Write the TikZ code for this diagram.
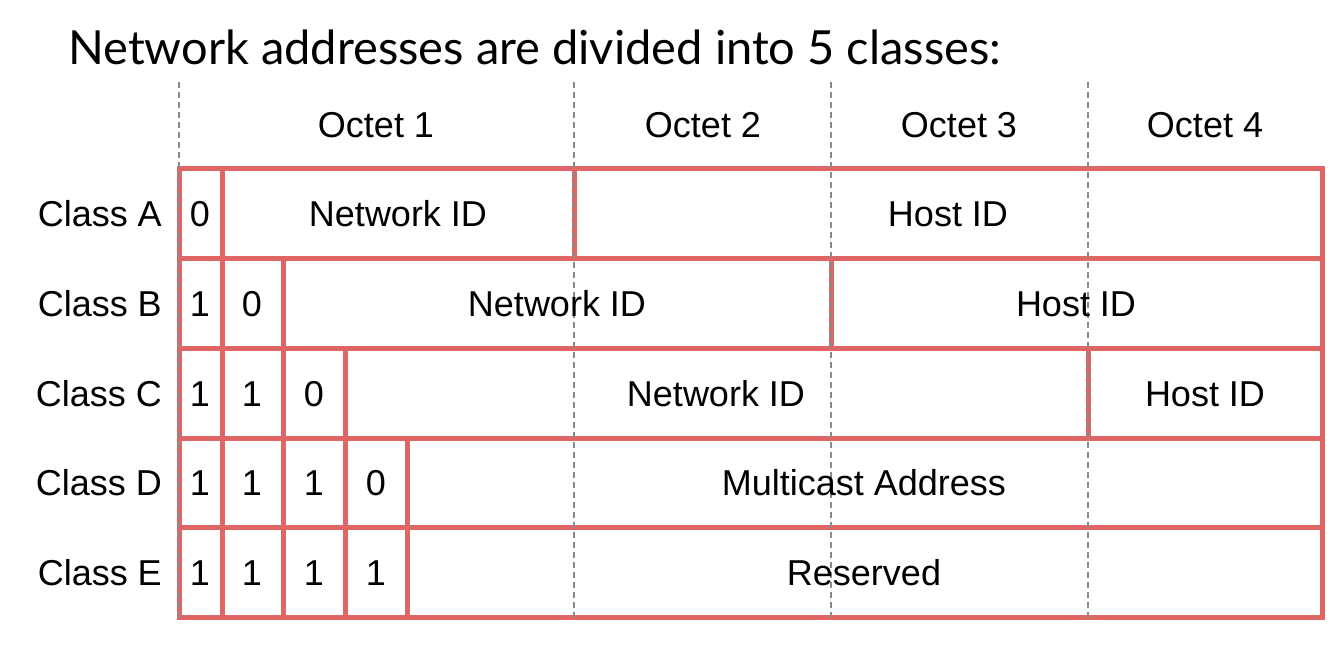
\documentclass[tikz,border=0pt]{standalone}
\usepackage{fontspec}
\setmainfont{Liberation Sans}
\newfontfamily\titlefont{Lato}
\definecolor{cellred}{HTML}{E06666}
\definecolor{octgray}{HTML}{8A8A8A}
\begin{document}
\begin{tikzpicture}[x=1pt,y=-1pt,
    cell/.style={draw=cellred, line width=5pt},
    octline/.style={draw=octgray, line width=1.6pt, dash pattern=on 6pt off 4pt},
    lbl/.style={font=\fontsize{36}{40}\selectfont, inner sep=0pt, anchor=base}]
    \useasboundingbox (0,0) rectangle (1344,656);
    \node[anchor=base west, inner sep=0pt, font=\titlefont\fontsize{47}{52}\selectfont] (title) at (68,64) {Network addresses are divided into 5 classes:};
    % rows and cells
    \foreach \ya/\yb in {168/258,258/348,348/438,438/527,527/617}
        \draw[cell] (179,\ya) rectangle (1322,\yb);
    \foreach \x/\ya/\yb in {222/168/617, 574/168/258, 283/258/617, 831/258/348,
                            345/348/617, 1088/348/438, 407/438/617}
        \draw[cell] (\x,\ya) -- (\x,\yb);
    % octet borders
    \foreach \x in {179,574,831,1088}
        \draw[octline] (\x,82) -- (\x,622);
    \node[lbl] (oct1) at (376,137) {Octet 1};
    \node[lbl] (oct2) at (703,137) {Octet 2};
    \node[lbl] (oct3) at (959,137) {Octet 3};
    \node[lbl] (oct4) at (1205,137) {Octet 4};
    % class names
    \foreach \c/\y in {A/226,B/316,C/406,D/495,E/585}
        \node[lbl, anchor=base east] (class\c) at (162,\y) {Class \c};
    % leading bits
    \node[lbl] (bitA1) at (200,226) {0};
    \node[lbl] (bitB1) at (200,316) {1};
    \node[lbl] (bitB2) at (252,316) {0};
    \node[lbl] (bitC1) at (200,406) {1};
    \node[lbl] (bitC2) at (252,406) {1};
    \node[lbl] (bitC3) at (314,406) {0};
    \node[lbl] (bitD1) at (200,495) {1};
    \node[lbl] (bitD2) at (252,495) {1};
    \node[lbl] (bitD3) at (314,495) {1};
    \node[lbl] (bitD4) at (376,495) {0};
    \node[lbl] (bitE1) at (200,585) {1};
    \node[lbl] (bitE2) at (252,585) {1};
    \node[lbl] (bitE3) at (314,585) {1};
    \node[lbl] (bitE4) at (376,585) {1};
    % fields
    \node[lbl] (netA) at (398,226) {Network ID};
    \node[lbl] (hostA) at (948,226) {Host ID};
    \node[lbl] (netB) at (557,316) {Network ID};
    \node[lbl] (hostB) at (1076,316) {Host ID};
    \node[lbl] (netC) at (716,406) {Network ID};
    \node[lbl] (hostC) at (1205,406) {Host ID};
    \node[lbl] (multiD) at (864,495) {Multicast Address};
    \node[lbl] (resE) at (864,585) {Reserved};
\end{tikzpicture}
\end{document}
